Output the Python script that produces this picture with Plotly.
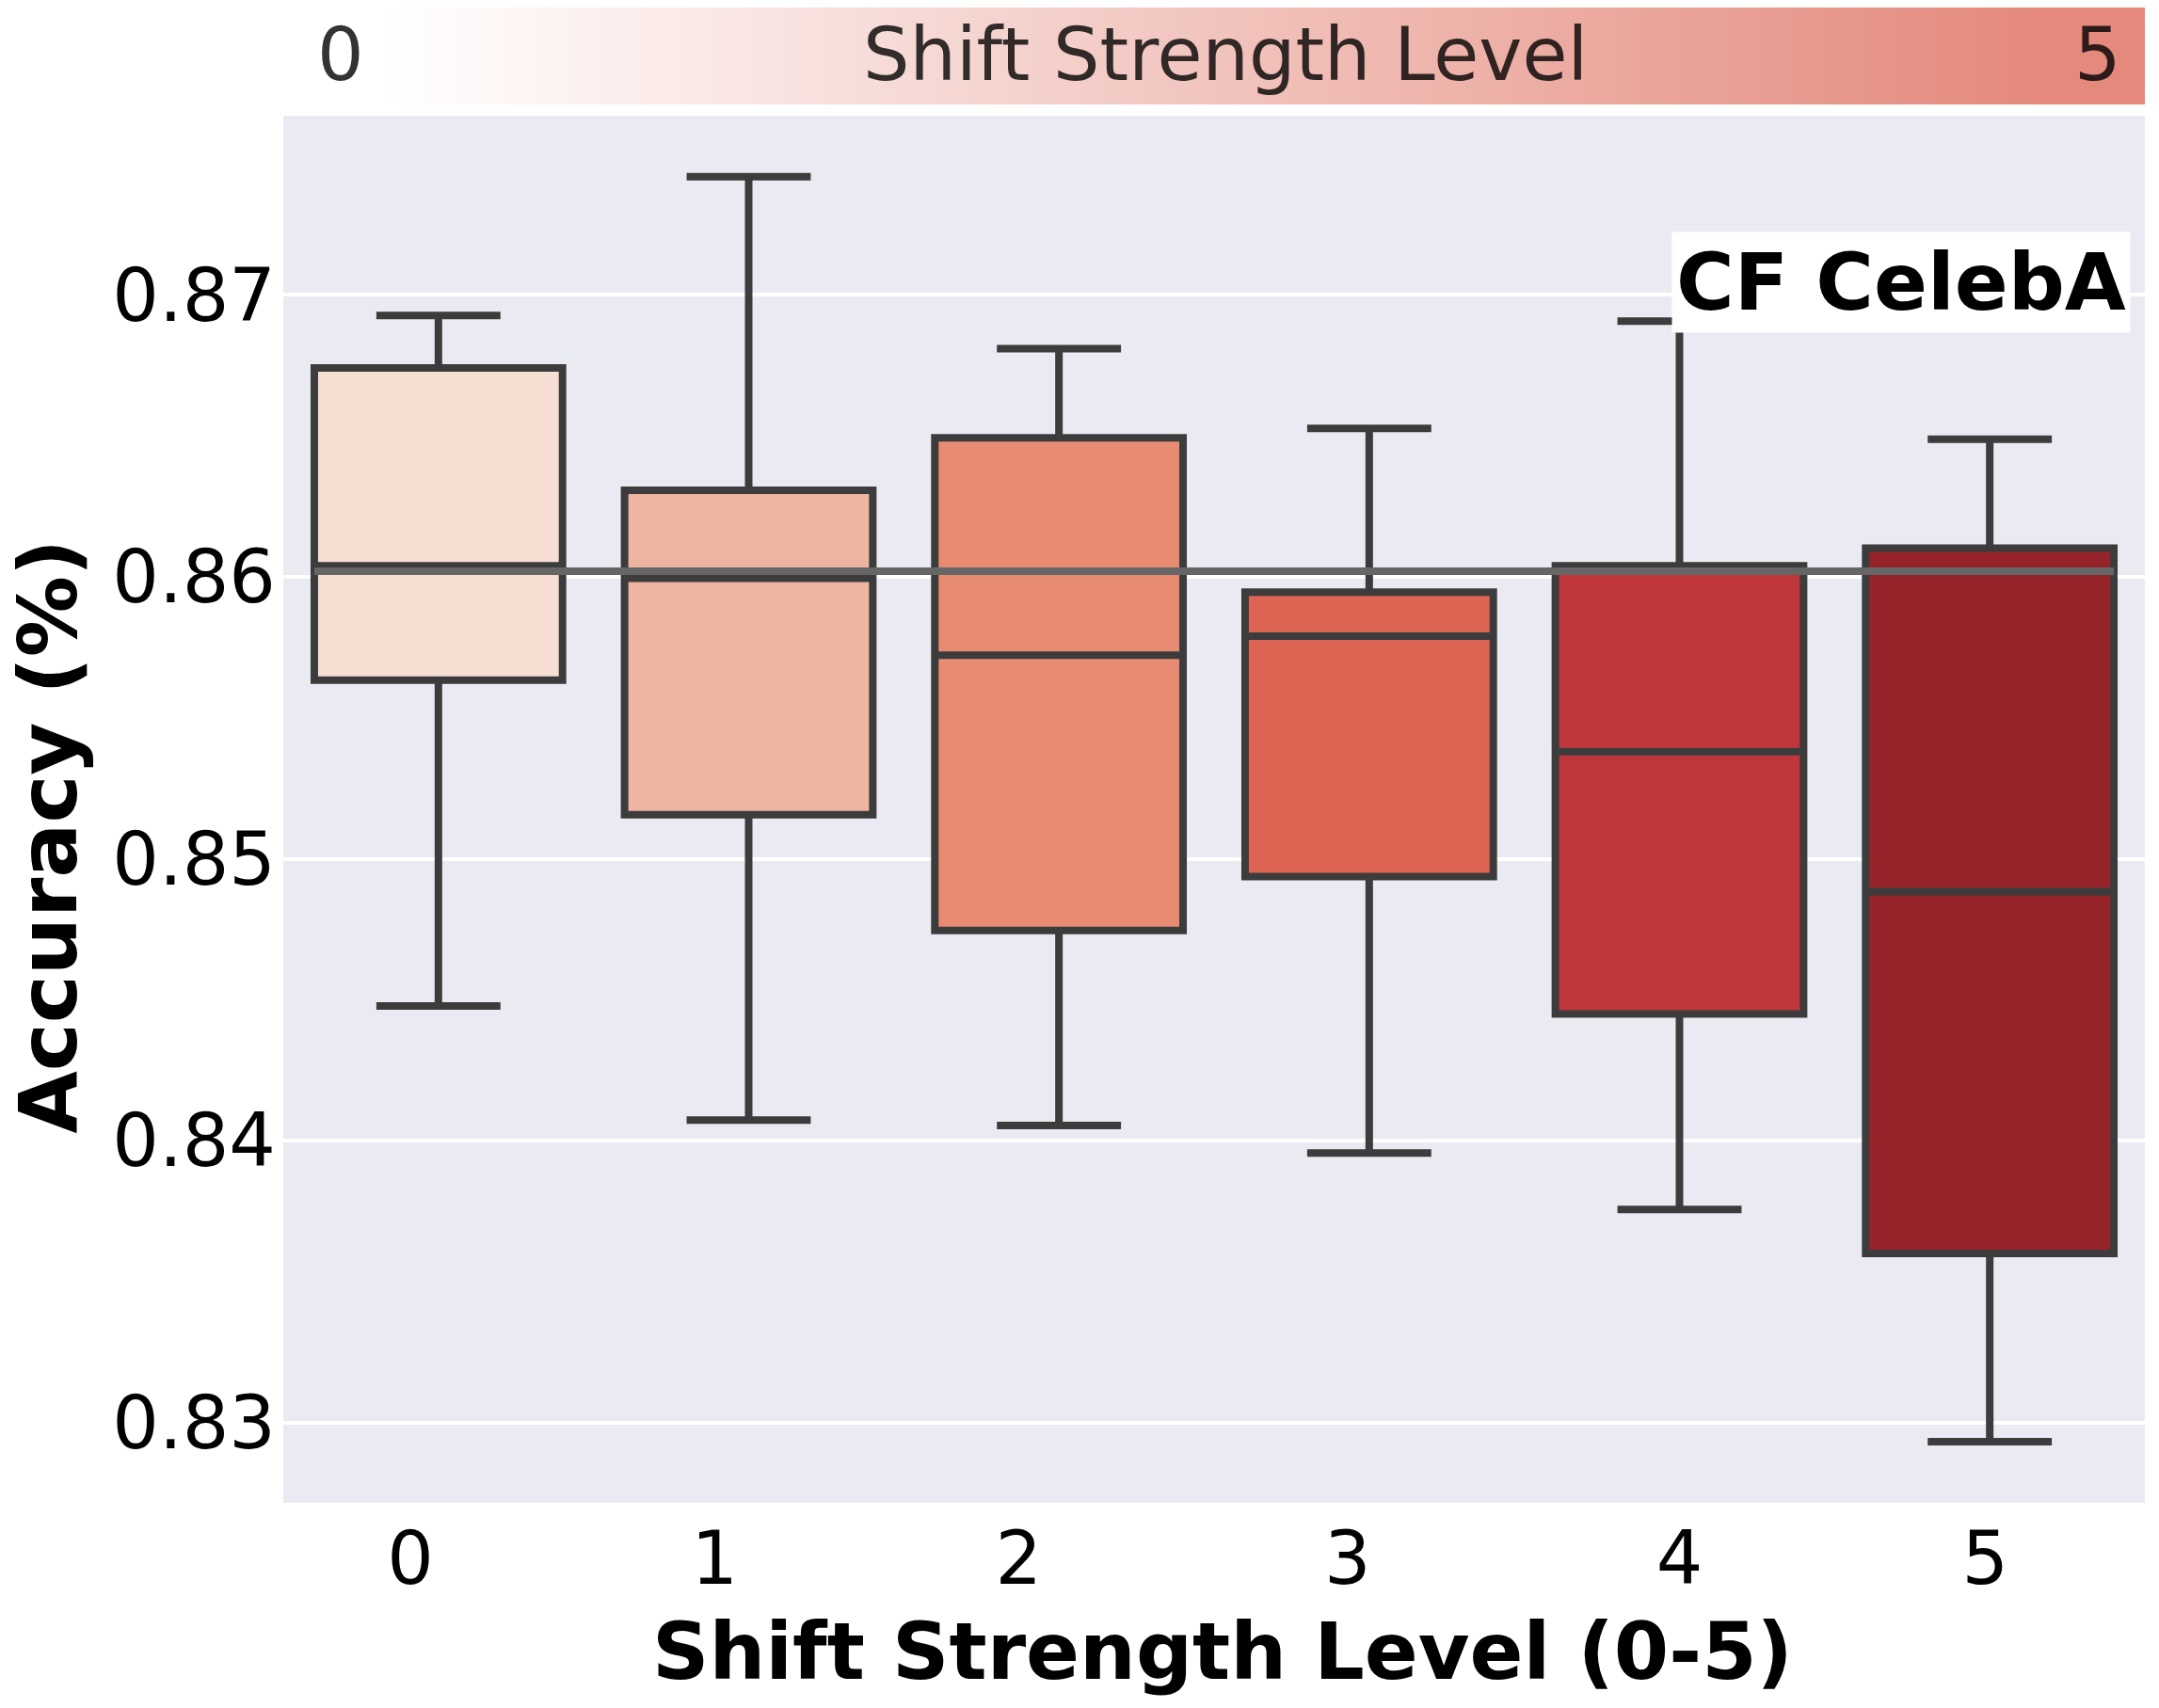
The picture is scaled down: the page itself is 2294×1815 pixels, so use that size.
import plotly.graph_objects as go

# shift strength levels and accuracy box statistics
levels = [0, 1, 2, 3, 4, 5]
upper = [0.86927, 0.87420, 0.86810, 0.86527, 0.86907, 0.86488]
q3 = [0.86741, 0.86307, 0.86493, 0.85946, 0.86039, 0.86102]
median = [0.86039, 0.85995, 0.85722, 0.85790, 0.85380, 0.84883]
q1 = [0.85634, 0.85156, 0.84746, 0.84937, 0.84449, 0.83600]
lower = [0.84478, 0.84073, 0.84054, 0.83956, 0.83756, 0.82932]
baseline = 0.8602
dataset = "CF CelebA"

box_colors = ["#F6DED3", "#EDB49F", "#E88B73", "#DD6353", "#BF373A", "#96222A"]
edge = "#3C3C3C"
BOX_WIDTH = 0.8
FONT = "DejaVu Sans"
# tick labels in the original sit a little left of the box centres
label_shift = [-0.09, -0.11, -0.13, -0.07, 0.0, -0.015]

# page body adds an 8px margin, so the figure is 16px smaller than the window
W, H = 2278, 1799
ml, mr, mt, mb = 293, 7, 0, 210

fig = go.Figure()

for lvl, lo, a, m, b, hi, c in zip(levels, lower, q1, median, q3, upper, box_colors):
    fig.add_trace(go.Box(
        x=[lvl], lowerfence=[lo], q1=[a], median=[m], q3=[b], upperfence=[hi],
        width=BOX_WIDTH, whiskerwidth=0.5, fillcolor=c,
        line=dict(color=edge, width=8), boxpoints=False,
        showlegend=False, hoverinfo="skip"))

# gradient strip on top
fig.add_trace(go.Heatmap(
    x=levels, y=[0], z=[levels], zsmooth="best",
    colorscale=[[0, "#FFFFFF"], [1, "#E4897C"]],
    showscale=False, hoverinfo="skip", xaxis="x2", yaxis="y2"))

# reference line at level-0 accuracy
fig.add_shape(type="line", xref="x", yref="y",
              x0=levels[0] - BOX_WIDTH / 2, x1=levels[-1] + BOX_WIDTH / 2,
              y0=baseline, y1=baseline,
              line=dict(color="#666666", width=8), layer="above")

fig.update_layout(
    width=W, height=H,
    margin=dict(l=ml, r=mr, t=mt, b=mb, pad=0),
    paper_bgcolor="white", plot_bgcolor="#EAEAF2",
    font=dict(family=FONT, size=78, color="black"),
    boxmode="overlay",
    xaxis=dict(range=[-0.5, 5.5],
               tickvals=[v + s for v, s in zip(levels, label_shift)],
               ticktext=[str(v) for v in levels],
               showgrid=False, zeroline=False, showline=False, ticks="",
               ticklabelstandoff=7, tickfont=dict(size=78)),
    yaxis=dict(domain=[0, 0.92763], range=[0.82715, 0.87636], dtick=0.01,
               tickformat=".2f", showgrid=True, gridcolor="white", gridwidth=4,
               zeroline=False, showline=False, ticks="", ticklabelstandoff=7,
               tickfont=dict(size=78)),
    xaxis2=dict(domain=[0, 1], range=[-0.3, 5.3], visible=False, anchor="y2"),
    yaxis2=dict(domain=[0.93518, 1.0], range=[-0.5, 0.5], visible=False, anchor="x2"),
)

strip_font = dict(size=78, color="rgba(0,0,0,0.8)")
ann = [
    dict(text="<b>Accuracy (%)</b>", x=-0.1265, y=0.44556, textangle=-90,
         xanchor="center", yanchor="middle", font=dict(size=86)),
    dict(text="<b>Shift Strength Level (0-5)</b>", x=0.5045, y=-0.09943,
         xanchor="center", yanchor="middle", font=dict(size=84)),
    dict(text="<b>" + dataset + "</b>", x=0.99242, y=0.85022, xanchor="right", yanchor="top",
         bgcolor="white", borderpad=4, font=dict(size=84)),
    dict(text=str(levels[0]), x=0.0172, y=0.96853, xanchor="left", yanchor="middle",
         font=strip_font),
    dict(text="Shift Strength Level", x=0.5061, y=0.96853, xanchor="center", yanchor="middle",
         font=strip_font),
    dict(text=str(levels[-1]), x=0.9883, y=0.96853, xanchor="right", yanchor="middle",
         font=strip_font),
]
for a in ann:
    fig.add_annotation(xref="paper", yref="paper", showarrow=False, **a)

fig.write_html("out.html")
